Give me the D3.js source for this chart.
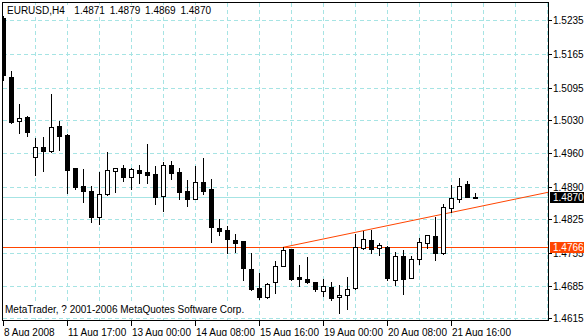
<!DOCTYPE html>
<html>
<head>
<meta charset="utf-8">
<script src="https://cdn.jsdelivr.net/npm/d3@7"></script>
<style>
  body { margin: 0; background: #fff; }
  svg text { font-family: "Liberation Sans", Arial, sans-serif; font-size: 10px; }
</style>
</head>
<body>
<script>
var width = 584, height = 336;
var plot = {left: 2, top: 2, right: 548, bottom: 320};

// EURUSD H4 bars
var barOpen = [1.5242, 1.5120, 1.5029, 1.5038, 1.4954, 1.4975, 1.4967, 1.5018, 1.5000, 1.4930,
               1.4894, 1.4883, 1.4829, 1.4876, 1.4925, 1.4930, 1.4913, 1.4927, 1.4923, 1.4919,
               1.4873, 1.4937, 1.4923, 1.4883, 1.4867, 1.4902, 1.4887, 1.4806, 1.4802, 1.4781,
               1.4779, 1.4721, 1.4681, 1.4663, 1.4693, 1.4728, 1.4762, 1.4704, 1.4700, 1.4694,
               1.4676, 1.4683, 1.4662, 1.4668, 1.4681, 1.4764, 1.4781, 1.4765, 1.4767, 1.4698,
               1.4748, 1.4703, 1.4742, 1.4776, 1.4790, 1.4755, 1.4847, 1.4867, 1.4898, 1.4871];
var barHigh = [1.5246, 1.5133, 1.5064, 1.5039, 1.4994, 1.4996, 1.5085, 1.5029, 1.5002, 1.4931,
               1.4929, 1.4894, 1.4923, 1.4964, 1.4932, 1.4937, 1.4931, 1.4937, 1.4981, 1.4935,
               1.4943, 1.4946, 1.4931, 1.4906, 1.4935, 1.4951, 1.4908, 1.4826, 1.4811, 1.4794,
               1.4780, 1.4754, 1.4713, 1.4691, 1.4738, 1.4766, 1.4763, 1.4729, 1.4747, 1.4695,
               1.4700, 1.4695, 1.4688, 1.4704, 1.4793, 1.4799, 1.4802, 1.4776, 1.4768, 1.4757,
               1.4761, 1.4749, 1.4785, 1.4792, 1.4830, 1.4856, 1.4896, 1.4911, 1.4903, 1.4879];
var barLow = [1.5114, 1.5025, 1.5004, 1.4998, 1.4916, 1.4925, 1.4964, 1.4968, 1.4880, 1.4887,
              1.4861, 1.4819, 1.4815, 1.4875, 1.4882, 1.4903, 1.4887, 1.4899, 1.4899, 1.4856,
              1.4842, 1.4908, 1.4866, 1.4851, 1.4866, 1.4876, 1.4778, 1.4792, 1.4754, 1.4757,
              1.4698, 1.4677, 1.4658, 1.4661, 1.4671, 1.4727, 1.4699, 1.4686, 1.4692, 1.4675,
              1.4665, 1.4657, 1.4629, 1.4638, 1.4680, 1.4762, 1.4754, 1.4750, 1.4698, 1.4688,
              1.4669, 1.4702, 1.4731, 1.4764, 1.4740, 1.4753, 1.4840, 1.4861, 1.4870, 1.4869];
var barClose = [1.5124, 1.5027, 1.5035, 1.5006, 1.4974, 1.4967, 1.5016, 1.4998, 1.4927, 1.4891,
                1.4884, 1.4830, 1.4876, 1.4926, 1.4930, 1.4913, 1.4929, 1.4921, 1.4917, 1.4871,
                1.4937, 1.4920, 1.4882, 1.4867, 1.4901, 1.4884, 1.4808, 1.4799, 1.4783, 1.4776,
                1.4723, 1.4679, 1.4663, 1.4689, 1.4728, 1.4761, 1.4700, 1.4701, 1.4693, 1.4679,
                1.4686, 1.4661, 1.4668, 1.4679, 1.4767, 1.4783, 1.4762, 1.4771, 1.4702, 1.4748,
                1.4700, 1.4741, 1.4777, 1.4791, 1.4755, 1.4849, 1.4868, 1.4894, 1.4871, 1.4870];

var timeBars = [0, 8, 16, 24, 32, 40, 48, 56];
var timeLabels = ["8 Aug 2008", "11 Aug 17:00", "13 Aug 00:00", "14 Aug 08:00",
                  "15 Aug 16:00", "19 Aug 00:00", "20 Aug 08:00", "21 Aug 16:00"];
var priceTicks = [1.5239, 1.5169, 1.5098, 1.5031, 1.4962, 1.4891, 1.4825, 1.4754, 1.4686, 1.4619];
var priceLabels = ["1.5235", "1.5165", "1.5095", "1.5030", "1.4960", "1.4890", "1.4825", "1.4755", "1.4685", "1.4615"];

var bidPrice = 1.4870;
var levelPrice = 1.4766;
var trendBars = [35, 68];
var trendPrices = [1.4766, 1.4880];

var headerText = "EURUSD,H4  1.4871 1.4879 1.4869 1.4870";
var copyText = "MetaTrader, ? 2001-2006 MetaQuotes Software Corp.";

var gridColor = "#a6e4e4", orange = "#ff4500";

var svg = d3.select("body").append("svg")
    .attr("width", width)
    .attr("height", height);

var xScale = d3.scaleLinear().domain([0, 68]).range([3, 547]); // bar index -> px, 8px a bar
var yScale = d3.scaleLinear().domain([1.4615, 1.5274]).range([320, 3]);

function px(v) { return Math.round(v) + 0.5; } // crisp 1px lines

svg.append("defs").append("clipPath").attr("id", "plotclip")
    .append("rect")
    .attr("x", plot.left + 1).attr("y", plot.top + 1)
    .attr("width", plot.right - plot.left - 1)
    .attr("height", plot.bottom - plot.top - 1);

// dashed grid
var grid = svg.append("g").attr("stroke", gridColor).attr("stroke-dasharray", "4,3");
grid.selectAll(".hgrid").data(priceTicks).enter().append("line")
    .attr("x1", plot.left + 1).attr("x2", plot.right)
    .attr("y1", function(d) { return px(yScale(d)); })
    .attr("y2", function(d) { return px(yScale(d)); });
grid.selectAll(".vgrid").data(d3.range(4, 69, 4)).enter().append("line")
    .attr("y1", plot.top + 1).attr("y2", plot.bottom)
    .attr("x1", function(d) { return px(xScale(d)); })
    .attr("x2", function(d) { return px(xScale(d)); });

// header and copyright sit on white boxes over the grid
function boxedText(str, x, y, wordGap) {
    var g = svg.append("g");
    var bg = g.append("rect").attr("fill", "#fff");
    var t = g.append("text").attr("x", x).attr("y", y).attr("fill", "#000")
        .style("white-space", "pre")
        .style("word-spacing", wordGap + "px")
        .text(str);
    var bb = t.node().getBBox();
    bg.attr("x", bb.x - 2).attr("y", bb.y).attr("width", bb.width + 4).attr("height", bb.height);
}
boxedText(headerText, 7, 14, 2);
boxedText(copyText, 5, 313, 0);

// bid line and horizontal level
svg.append("line")
    .attr("x1", plot.left + 1).attr("x2", plot.right)
    .attr("y1", px(yScale(bidPrice))).attr("y2", px(yScale(bidPrice)))
    .attr("stroke", "#a6e4e4");
svg.append("line")
    .attr("x1", plot.left + 1).attr("x2", plot.right)
    .attr("y1", px(yScale(levelPrice))).attr("y2", px(yScale(levelPrice)))
    .attr("stroke", orange);

// trend line, extended as a ray to the right edge
var slope = (trendPrices[1] - trendPrices[0]) / (trendBars[1] - trendBars[0]);
var endBar = xScale.invert(plot.right);
svg.append("line")
    .attr("clip-path", "url(#plotclip)")
    .attr("x1", xScale(trendBars[0])).attr("y1", yScale(trendPrices[0]))
    .attr("x2", xScale(endBar)).attr("y2", yScale(trendPrices[0] + slope * (endBar - trendBars[0])))
    .attr("stroke", orange);

// candles
var bars = barOpen.map(function(o, i) {
    return {i: i, o: o, h: barHigh[i], l: barLow[i], c: barClose[i]};
});
var candles = svg.append("g").attr("clip-path", "url(#plotclip)")
    .selectAll("g").data(bars).enter().append("g");
candles.append("line")
    .attr("x1", function(d) { return px(xScale(d.i)); })
    .attr("x2", function(d) { return px(xScale(d.i)); })
    .attr("y1", function(d) { return Math.round(yScale(d.h)); })
    .attr("y2", function(d) { return Math.round(yScale(d.l)) + 1; })
    .attr("stroke", "#000");
candles.append("rect")
    .attr("x", function(d) { return px(xScale(d.i)) - 2; })
    .attr("width", 4)
    .attr("y", function(d) { return px(yScale(Math.max(d.o, d.c))); })
    .attr("height", function(d) {
        return Math.max(1, Math.round(yScale(Math.min(d.o, d.c))) - Math.round(yScale(Math.max(d.o, d.c))));
    })
    .attr("fill", function(d) { return d.c >= d.o ? "#fff" : "#000"; })
    .attr("stroke", "#000");

// frame
svg.append("rect")
    .attr("x", plot.left + 0.5).attr("y", plot.top + 0.5)
    .attr("width", plot.right - plot.left).attr("height", plot.bottom - plot.top)
    .attr("fill", "none").attr("stroke", "#000");

// price axis on the right
var yAxis = svg.append("g");
yAxis.selectAll("line").data(priceTicks).enter().append("line")
    .attr("x1", plot.right + 1).attr("x2", plot.right + 4)
    .attr("y1", function(d) { return px(yScale(d)); })
    .attr("y2", function(d) { return px(yScale(d)); })
    .attr("stroke", "#000");
yAxis.selectAll("text").data(priceTicks).enter().append("text")
    .attr("x", plot.right + 5)
    .attr("y", function(d) { return Math.round(yScale(d)) + 4; })
    .text(function(d, i) { return priceLabels[i]; });

function priceTag(price, bg) {
    var y = Math.round(yScale(price));
    svg.append("rect")
        .attr("x", plot.right + 2).attr("y", y - 5)
        .attr("width", width - plot.right - 2).attr("height", 11)
        .attr("fill", bg);
    svg.append("text")
        .attr("x", plot.right + 5).attr("y", y + 4)
        .attr("fill", "#fff")
        .text(price.toFixed(4));
}
priceTag(bidPrice, "#000");
priceTag(levelPrice, orange);

// time axis along the bottom
var xAxis = svg.append("g");
xAxis.selectAll("line").data(timeBars).enter().append("line")
    .attr("x1", function(d) { return px(xScale(d)); })
    .attr("x2", function(d) { return px(xScale(d)); })
    .attr("y1", plot.bottom + 1).attr("y2", plot.bottom + 6)
    .attr("stroke", "#000");
xAxis.selectAll("text").data(timeBars).enter().append("text")
    .attr("x", function(d) { return px(xScale(d)) + 0.5; })
    .attr("y", 336)
    .text(function(d, i) { return timeLabels[i]; });
</script>
</body>
</html>
